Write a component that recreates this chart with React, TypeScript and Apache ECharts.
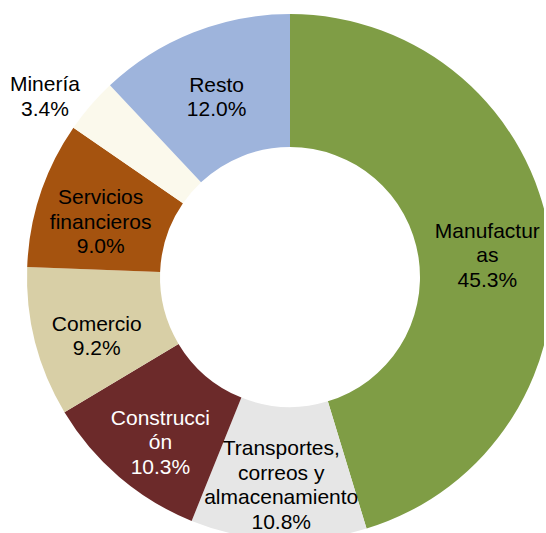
import React, { useEffect, useRef } from "react";
import * as echarts from "echarts";

const categories = [
  "Manufacturas",
  "Transportes, correos y almacenamiento",
  "Construcción",
  "Comercio",
  "Servicios financieros",
  "Minería",
  "Resto",
];
const shares = [45.3, 10.8, 10.3, 9.2, 9.0, 3.4, 12.0];
const wrappedNames = [
  "Manufactur\nas",
  "Transportes,\ncorreos y\nalmacenamiento",
  "Construcci\nón",
  "Comercio",
  "Servicios\nfinancieros",
  "Minería",
  "Resto",
];
const colors = ["#7F9D45", "#E6E6E6", "#6C2A2A", "#D8CFA6", "#A5530F", "#FBF9EC", "#9EB4DC"];
const labelColors = ["#000", "#000", "#fff", "#000", "#000", "#000", "#000"];
const labelNudgeY = [7, 8, 13, 9, 7, 2, 5];
const labelNudgeX = [0, 0, 0, 0, 0, -27, 0];

export default function App() {
  const ref = useRef<HTMLDivElement>(null);
  useEffect(() => {
    if (!ref.current) return;
    const chart = echarts.init(ref.current, null, { renderer: "svg" });
    const outsideIdx = categories.indexOf("Minería");
    chart.setOption({
      animation: false,
      backgroundColor: "#ffffff",
      series: [
        {
          type: "pie",
          center: [290, 277],
          radius: [130, 263],
          startAngle: 90,
          clockwise: true,
          avoidLabelOverlap: false,
          label: {
            show: true,
            position: "inside",
            fontFamily: "'Liberation Sans', Arial, sans-serif",
            fontSize: 21,
            lineHeight: 24.5,
            color: "#000",
          },
          labelLine: { show: false, length: 18, length2: 0 },
          labelLayout: (params: any) => {
            const i = params.dataIndex;
            const o: any = { dx: labelNudgeX[i], dy: labelNudgeY[i] };
            if (i === outsideIdx) o.align = "center";
            return o;
          },
          data: categories.map((name, i) => ({
            name,
            value: shares[i],
            itemStyle: { color: colors[i] },
            label: {
              color: labelColors[i],
              position: i === outsideIdx ? "outside" : "inside",
              formatter: () => `${wrappedNames[i]}\n${shares[i].toFixed(1)}%`,
            },
            labelLine: { show: false },
          })),
        },
      ],
    });
    return () => chart.dispose();
  }, []);
  return (
    <div
      ref={ref}
      style={{ position: "absolute", left: 0, top: 0, width: 544, height: 533, background: "#fff" }}
    />
  );
}
